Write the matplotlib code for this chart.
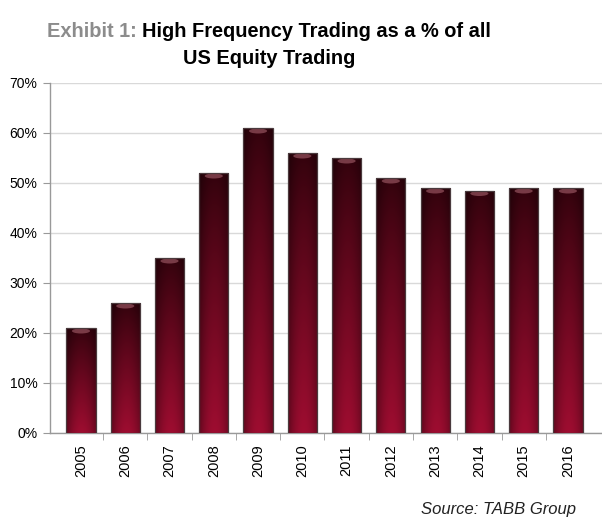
import numpy as np
import matplotlib
matplotlib.use("Agg")
import matplotlib.pyplot as plt
from matplotlib.patches import Ellipse
from matplotlib.ticker import FixedLocator, PercentFormatter

years = ["2005", "2006", "2007", "2008", "2009", "2010", "2011", "2012",
         "2013", "2014", "2015", "2016"]
hft_share = [21, 26, 35, 52, 61, 56, 55, 51, 49, 48.5, 49, 49]
y_ticks = [0, 10, 20, 30, 40, 50, 60, 70]

plt.rcParams['font.family'] = ['Liberation Sans', 'DejaVu Sans']

fig = plt.figure(figsize=(6.02, 5.20), dpi=100)
ax = fig.add_axes([50/602, 1-433/520, 552/602, 350/520])

x = np.arange(len(years))
width = 0.66
bars = ax.bar(x, hft_share, width=width, facecolor='none',
              edgecolor='#4a3a3d', linewidth=0.9, zorder=4)

# gradient image for bars
H, W = 120, 60
tt = np.linspace(0, 1, H)[:, None]          # 0 top -> 1 bottom
hh = np.linspace(0, 1, W)[None, :]
dark = np.array([0.20, 0.01, 0.05])
bright = np.array([0.62, 0.05, 0.19])
vert = tt ** 0.9
horiz = 0.45 + 0.55 * np.clip(np.sin(np.pi * (hh * 0.85 + 0.05)) ** 0.7, 0, 1)
img = (dark[None, None, :] + (bright - dark)[None, None, :] * vert[..., None])
img = img * horiz[..., None]
img = np.clip(img, 0, 1)

for xi, val, patch in zip(x, hft_share, bars):
    im = ax.imshow(img, extent=[xi - width/2, xi + width/2, 0, val],
                   aspect='auto', origin='upper', zorder=3, interpolation='bilinear')
    im.set_clip_path(patch)
    e = Ellipse((xi, val - 0.6), width * 0.62, 1.0, facecolor=(0.8, 0.5, 0.55),
                alpha=0.45, edgecolor='none', zorder=3.5)
    ax.add_patch(e)
    e.set_clip_path(patch)

ax.set_xlim(-0.70, 11.77)
ax.set_ylim(0, 70)
ax.set_yticks(y_ticks)
ax.yaxis.set_major_formatter(PercentFormatter(decimals=0))
ax.set_xticks(x)
ax.set_xticklabels(years, rotation=90)
ax.xaxis.set_minor_locator(FixedLocator(np.arange(0.5, len(years) - 0.5, 1)))
ax.tick_params(axis='x', which='major', length=0, pad=8, labelsize=10.5)
ax.tick_params(axis='x', which='minor', length=5, color='#999999', direction='out')
ax.tick_params(axis='y', length=5, color='#999999', labelsize=10, pad=4)
ax.grid(axis='y', color='#d9d9d9', linewidth=1.0, zorder=0)
ax.set_axisbelow(True)
for s in ['top', 'right']:
    ax.spines[s].set_visible(False)
for s in ['left', 'bottom']:
    ax.spines[s].set_color('#999999')
    ax.spines[s].set_linewidth(1.0)

# title with two colours
fig.canvas.draw()
r = fig.canvas.get_renderer()
fs = 14.4
t1 = fig.text(0, 1 - 37/520, "Exhibit 1: ", color='#8c8c8c', fontsize=fs,
              fontweight='bold', va='baseline', ha='left')
t2 = fig.text(0, 1 - 37/520, "High Frequency Trading as a % of all", color='black',
              fontsize=fs, fontweight='bold', va='baseline', ha='left')
w1 = t1.get_window_extent(r).width
w2 = t2.get_window_extent(r).width
total = w1 + w2
cx = 269
start = cx - total / 2
t1.set_x(start / 602)
t2.set_x((start + w1) / 602)
fig.text(cx / 602, 1 - 64/520, "US Equity Trading", color='black', fontsize=fs,
         fontweight='bold', va='baseline', ha='center')

fig.text(576 / 602, 1 - 514/520, "Source: TABB Group", fontsize=12,
         style='italic', ha='right', va='baseline', color='#222222')

fig.savefig("out.png", dpi=100)
